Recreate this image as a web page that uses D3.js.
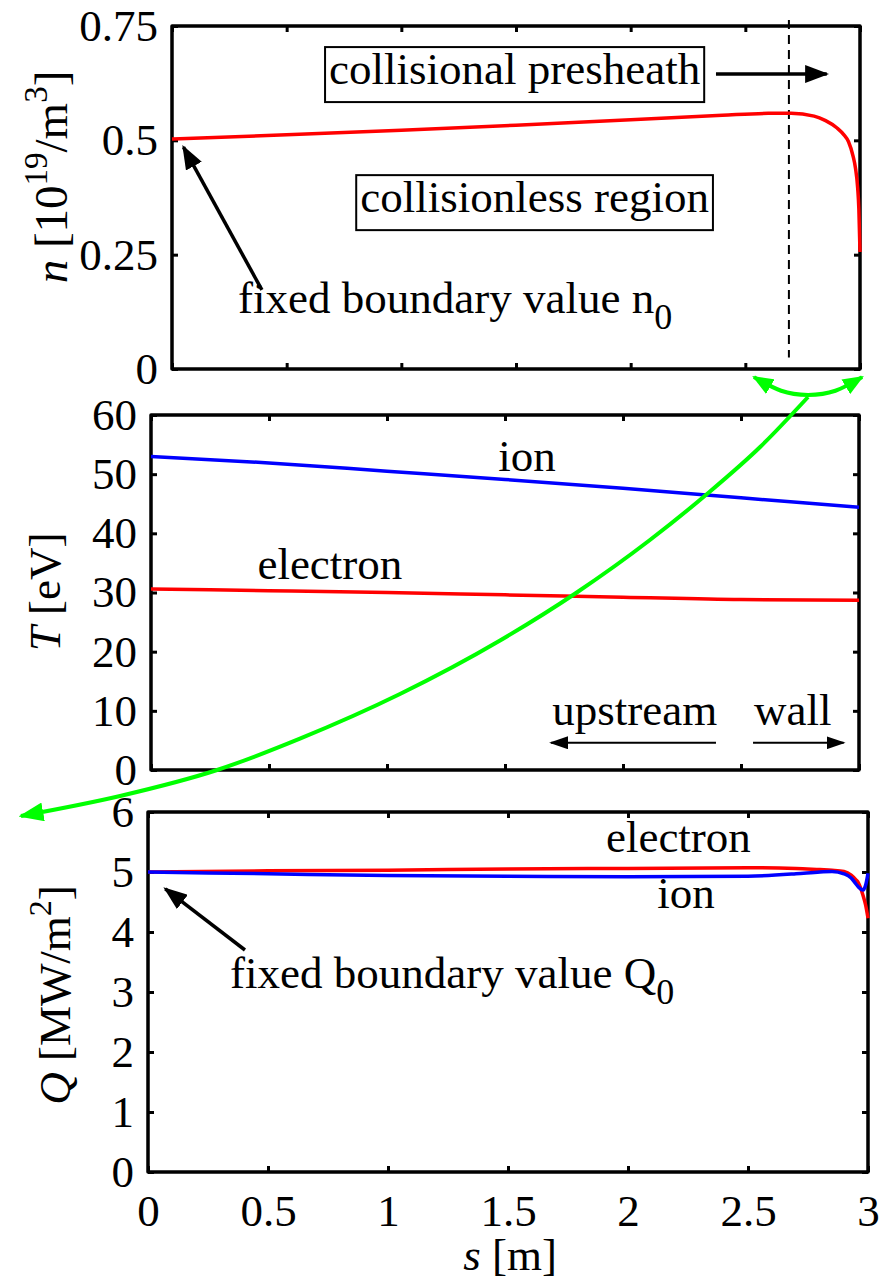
<!DOCTYPE html>
<html>
<head>
<meta charset="utf-8">
<script src="https://cdn.jsdelivr.net/npm/d3@7"></script>
<style>
  body { margin: 0; background: #fff; }
</style>
</head>
<body>
<svg id="chart" width="887" height="1281"></svg>
<script>
// density profile (top panel)
var sN = [0, 0.5, 1, 1.5, 2, 2.4, 2.6, 2.7, 2.8, 2.85, 2.9, 2.93, 2.95, 2.97, 2.98, 2.99, 2.995, 3.0];
var nVals = [0.503, 0.512, 0.522, 0.533, 0.545, 0.555, 0.559, 0.559, 0.553, 0.543, 0.527, 0.512, 0.497, 0.465, 0.44, 0.395, 0.35, 0.256];
var sPresheath = 2.69;

// temperatures (middle panel)
var sT = [0, 0.5, 1, 1.5, 2, 2.5, 3];
var ionT = [53.0, 51.9, 50.5, 49.1, 47.6, 46.0, 44.4];
var eleT = [30.6, 30.3, 30.0, 29.6, 29.2, 28.8, 28.7];

// heat fluxes (bottom panel)
var sQ = [0, 0.5, 1, 1.5, 2, 2.5, 2.7, 2.8, 2.85, 2.9, 2.93, 2.95, 2.96, 2.98, 2.99, 3.0];
var eleQ = [5.0, 5.02, 5.03, 5.05, 5.06, 5.07, 5.06, 5.04, 5.03, 5.01, 4.95, 4.87, 4.82, 4.6, 4.45, 4.23];
var ionQ = [5.0, 4.97, 4.94, 4.93, 4.92, 4.93, 4.97, 5.0, 5.01, 4.97, 4.9, 4.8, 4.75, 4.7, 4.78, 4.98];

// tick values
var xTickVals = [0, 0.5, 1, 1.5, 2, 2.5, 3];
var nTickVals = [0, 0.25, 0.5, 0.75];
var tTickVals = [0, 10, 20, 30, 40, 50, 60];
var qTickVals = [0, 1, 2, 3, 4, 5, 6];

// green "zoom" curve, in middle panel units (s, T), from the arrow tip up
var greenS = [-0.551, -0.131, 0.280, 0.631, 1.055, 1.479, 1.801, 2.114, 2.356, 2.581, 2.784];
var greenT = [-7.77, -4.39, 0, 5.31, 12.85, 21.89, 29.92, 38.87, 46.65, 54.59, 63.04];
var arcS = [2.555, 2.67, 2.784, 2.90, 3.013];
var arcT = [66.4, 64.1, 63.4, 64.1, 66.4];

var SERIF = '"Liberation Serif", "Times New Roman", "DejaVu Serif", serif';
var FONT = 45;

var svg = d3.select('#chart').attr('font-family', SERIF);

var defs = svg.append('defs');
function marker(id, color, len, wid) {
	defs.append('marker')
		.attr('id', id)
		.attr('viewBox', '0 0 10 10')
		.attr('refX', 9).attr('refY', 5)
		.attr('markerUnits', 'userSpaceOnUse')
		.attr('markerWidth', len).attr('markerHeight', wid)
		.attr('preserveAspectRatio', 'none')
		.attr('orient', 'auto-start-reverse')
		.append('path')
		.attr('d', 'M0,0L10,5L0,10z')
		.attr('fill', color);
}
marker('headBig', '#000', 24, 18);
marker('headSmall', '#000', 19, 13);
marker('headGreen', '#00ff00', 25, 19);
marker('headGreenS', '#00ff00', 21, 17);

// scales
var x0 = d3.scaleLinear().domain([0, 3]).range([172, 860]);
var y0 = d3.scaleLinear().domain([0, 0.75]).range([369, 26]);
var x1 = d3.scaleLinear().domain([0, 3]).range([151, 859]);
var y1 = d3.scaleLinear().domain([0, 60]).range([770, 415]);
var x2 = d3.scaleLinear().domain([0, 3]).range([148, 868]);
var y2 = d3.scaleLinear().domain([0, 6]).range([1172, 812]);

function frame(x, y, yTicks, yFmt, xLabels) {
	var g = svg.append('g');
	var L = x.range()[0], R = x.range()[1], B = y.range()[0], T = y.range()[1];

	g.append('g').attr('transform', 'translate(' + L + ',0)')
		.call(d3.axisLeft(y).tickValues(yTicks).tickSizeInner(-6).tickSizeOuter(0).tickPadding(14).tickFormat(yFmt));
	g.append('g').attr('transform', 'translate(' + R + ',0)')
		.call(d3.axisRight(y).tickValues(yTicks).tickSizeInner(-6).tickSizeOuter(0).tickFormat(''));
	g.append('g').attr('transform', 'translate(0,' + T + ')')
		.call(d3.axisTop(x).tickValues(xTickVals).tickSizeInner(-6).tickSizeOuter(0).tickFormat(''));
	g.append('g').attr('transform', 'translate(0,' + B + ')')
		.call(d3.axisBottom(x).tickValues(xTickVals).tickSizeInner(-6).tickSizeOuter(0).tickPadding(22)
			.tickFormat(xLabels ? function (d) { return d; } : ''));

	g.selectAll('g').attr('font-family', SERIF).attr('font-size', FONT);
	g.selectAll('.domain').remove();
	g.selectAll('.tick line').attr('stroke', '#000').attr('stroke-width', 3);
	g.selectAll('.tick text').attr('fill', '#000');

	g.append('rect')
		.attr('x', L).attr('y', T)
		.attr('width', R - L).attr('height', B - T)
		.attr('fill', 'none').attr('stroke', '#000').attr('stroke-width', 3.5)
		.attr('stroke-linejoin', 'round');
	return g;
}

function series(x, y, xs, ys, color, width, curve) {
	var pts = xs.map(function (d, i) { return [d, ys[i]]; });
	return svg.append('path')
		.datum(pts)
		.attr('fill', 'none')
		.attr('stroke', color)
		.attr('stroke-width', width)
		.attr('stroke-linejoin', 'round')
		.attr('d', d3.line()
			.x(function (d) { return x(d[0]); })
			.y(function (d) { return y(d[1]); })
			.curve(curve || d3.curveMonotoneX));
}

function arrow(x, y, from, to, head, width) {
	svg.append('line')
		.attr('x1', x(from[0])).attr('y1', y(from[1]))
		.attr('x2', x(to[0])).attr('y2', y(to[1]))
		.attr('stroke', '#000').attr('stroke-width', width)
		.attr('marker-end', 'url(#' + head + ')');
}

function label(x, y, s, v, txt, anchor, size) {
	return svg.append('text')
		.attr('x', x(s)).attr('y', y(v))
		.attr('text-anchor', anchor || 'start')
		.attr('font-family', SERIF)
		.attr('font-size', size || FONT)
		.attr('fill', '#000')
		.text(txt);
}

// box round a label: 37px above the baseline, 18px below
function boxed(t, pad) {
	var b = t.node().getBBox();
	var base = +t.attr('y');
	svg.insert('rect', function () { return t.node(); })
		.attr('x', b.x - pad).attr('y', base - 37)
		.attr('width', b.width + 2 * pad).attr('height', 55)
		.attr('fill', '#fff').attr('stroke', '#000').attr('stroke-width', 2);
}

// ---- top panel: density
frame(x0, y0, nTickVals, function (d) { return d === 0 ? '0' : String(d); }, false);
svg.append('line')
	.attr('x1', x0(sPresheath)).attr('x2', x0(sPresheath))
	.attr('y1', 20).attr('y2', y0(0.025))
	.attr('stroke', '#000').attr('stroke-width', 2).attr('stroke-dasharray', '9,6');
series(x0, y0, sN, nVals, '#ff0000', 3.5);

var tPre = label(x0, y0, 1.494, 0.623, 'collisional presheath', 'middle');
boxed(tPre, 4);
arrow(x0, y0, [2.372, 0.645], [2.855, 0.645], 'headBig', 3.5);
var tLess = label(x0, y0, 1.581, 0.343, 'collisionless region', 'middle');
boxed(tLess, 4);
var tn0 = label(x0, y0, 0.288, 0.122, 'fixed boundary value n', 'start');
tn0.append('tspan').attr('font-size', 36).attr('dy', 16).text('0');
arrow(x0, y0, [0.392, 0.173], [0.05, 0.485], 'headBig', 3.5);

// ---- middle panel: temperature
frame(x1, y1, tTickVals, function (d) { return d; }, false);
series(x1, y1, sT, ionT, '#0000ff', 3.5);
series(x1, y1, sT, eleT, '#ff0000', 3.5);
label(x1, y1, 1.593, 50.6, 'ion', 'middle');
label(x1, y1, 0.758, 32.2, 'electron', 'middle');
label(x1, y1, 1.70, 7.6, 'upstream', 'start');
label(x1, y1, 2.555, 7.6, 'wall', 'start');
arrow(x1, y1, [2.394, 4.6], [1.695, 4.6], 'headSmall', 2);
arrow(x1, y1, [2.551, 4.6], [2.935, 4.6], 'headSmall', 2);

// ---- bottom panel: heat flux
frame(x2, y2, qTickVals, function (d) { return d; }, true);
series(x2, y2, sQ, eleQ, '#ff0000', 3.5);
series(x2, y2, sQ, ionQ, '#0000ff', 3.5);
label(x2, y2, 2.21, 5.333, 'electron', 'middle');
label(x2, y2, 2.242, 4.4, 'ion', 'middle');
var tq0 = label(x2, y2, 0.342, 3.07, 'fixed boundary value Q', 'start');
tq0.append('tspan').attr('font-size', 36).attr('dy', 16).text('0');
arrow(x2, y2, [0.404, 3.7], [0.072, 4.72], 'headBig', 3.5);

// ---- green zoom indicator
series(x1, y1, greenS, greenT, '#00ff00', 4, d3.curveMonotoneX)
	.attr('marker-start', 'url(#headGreen)');
var arcPts = arcS.map(function (d, i) { return [d, arcT[i]]; });
svg.append('path')
	.datum(arcPts)
	.attr('fill', 'none').attr('stroke', '#00ff00').attr('stroke-width', 4)
	.attr('marker-start', 'url(#headGreenS)').attr('marker-end', 'url(#headGreenS)')
	.attr('d', d3.line().x(function (d) { return x1(d[0]); }).y(function (d) { return y1(d[1]); }).curve(d3.curveNatural));

// ---- axis titles
function ylab(x, y, size) {
	return svg.append('text')
		.attr('transform', 'translate(' + x + ',' + y + ') rotate(-90)')
		.attr('text-anchor', 'middle')
		.attr('font-family', SERIF)
		.attr('font-size', size || FONT);
}
var ln = ylab(67, 177, 47);
ln.append('tspan').attr('font-style', 'italic').text('n');
ln.append('tspan').text(' [10');
ln.append('tspan').attr('font-size', 33).attr('dy', -20).text('19');
ln.append('tspan').attr('dy', 20).text('/m');
ln.append('tspan').attr('font-size', 33).attr('dy', -20).text('3');
ln.append('tspan').attr('dy', 20).text(']');

var lt = ylab(60, 592);
lt.append('tspan').attr('font-style', 'italic').text('T');
lt.append('tspan').text(' [eV]');

var lq = ylab(70, 995);
lq.append('tspan').attr('font-style', 'italic').text('Q');
lq.append('tspan').text(' [MW/m');
lq.append('tspan').attr('font-size', 32).attr('dy', -19).text('2');
lq.append('tspan').attr('dy', 19).text(']');

var ls = svg.append('text').attr('x', 510).attr('y', 1270)
	.attr('text-anchor', 'middle').attr('font-family', SERIF).attr('font-size', FONT);
ls.append('tspan').attr('font-style', 'italic').text('s');
ls.append('tspan').text(' [m]');
</script>
</body>
</html>
